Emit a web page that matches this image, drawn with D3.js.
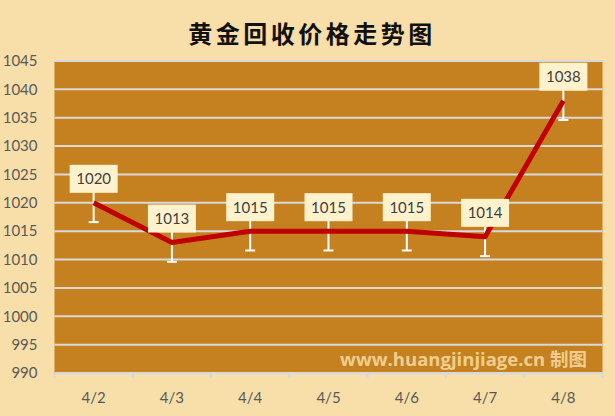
<!DOCTYPE html>
<html>
<head>
<meta charset="utf-8">
<script src="https://cdn.jsdelivr.net/npm/d3@7"></script>
<style>
body{margin:0;background:#F8DEA8;}
svg{display:block;}
</style>
</head>
<body>
<div id="chart"></div>
<script>
var dates = ['4/2','4/3','4/4','4/5','4/6','4/7','4/8'];
var prices = [1020,1013,1015,1015,1015,1014,1038];
var errorAmount = 3.4;
var yTicks = [990,995,1000,1005,1010,1015,1020,1025,1030,1035,1040,1045];

var W = 615, H = 416;
var plotLeft = 54.5, plotRight = 602.5, plotTop = 61, plotBottom = 373;

var svg = d3.select('#chart').append('svg').attr('width', W).attr('height', H);
svg.append('rect').attr('width', W).attr('height', H).attr('fill', '#F8DEA8');

var x = d3.scaleBand().domain(dates).range([plotLeft, plotRight]).padding(0);
var y = d3.scaleLinear().domain([990,1045]).range([plotBottom, plotTop]);
function cx(d){ return x(d) + x.bandwidth()/2; }

svg.append('text').attr('x', 312).attr('y', 43).attr('text-anchor', 'middle')
    .attr('font-family', '"Noto Sans CJK SC"').attr('font-weight', 'bold')
    .attr('font-size', 24).attr('letter-spacing', 3.5).attr('fill', '#111')
    .text('黄金回收价格走势图');

svg.append('rect').attr('x', plotLeft).attr('y', plotTop).attr('width', plotRight-plotLeft).attr('height', plotBottom-plotTop).attr('fill', '#C5811F');

svg.append('g').selectAll('line').data(yTicks).enter().append('line')
    .attr('x1', plotLeft).attr('x2', plotRight)
    .attr('y1', function(d){ return y(d); }).attr('y2', function(d){ return y(d); })
    .attr('stroke', '#D9D9D9').attr('stroke-width', 2);

var yAxis = svg.append('g').attr('transform', 'translate(' + plotLeft + ',0)')
    .call(d3.axisLeft(y).tickValues(yTicks).tickFormat(d3.format('d')).tickSize(0).tickPadding(17));
yAxis.select('.domain').remove();
yAxis.selectAll('text').attr('font-family', 'Lato').attr('font-size', 15).attr('fill', '#595959');

var xAxis = svg.append('g').attr('transform', 'translate(0,' + plotBottom + ')')
    .call(d3.axisBottom(x).tickSize(0).tickPadding(19));
xAxis.select('.domain').attr('stroke', '#D9D9D9').attr('stroke-width', 2);
xAxis.selectAll('text').attr('font-family', 'Lato').attr('font-size', 15).attr('fill', '#595959');

var bounds = dates.map(function(d){ return x(d); }).concat([plotRight]);
svg.append('g').selectAll('line').data(bounds).enter().append('line')
    .attr('x1', function(d){ return d; }).attr('x2', function(d){ return d; })
    .attr('y1', plotBottom).attr('y2', plotBottom + 5)
    .attr('stroke', '#D9D9D9').attr('stroke-width', 2);

svg.append('text').attr('x', 587).attr('y', 366).attr('text-anchor', 'end')
    .attr('font-family', '"Open Sans", "Noto Sans CJK SC"').attr('font-weight', 'bold')
    .attr('font-size', 18.5).attr('fill', '#FBE3B0').attr('fill-opacity', 0.8)
    .text('www.huangjinjiage.cn 制图');

var err = svg.append('g');
prices.forEach(function(p, i){
    var xx = cx(dates[i]);
    err.append('line').attr('x1', xx).attr('x2', xx)
        .attr('y1', y(p + errorAmount)).attr('y2', y(p - errorAmount))
        .attr('stroke', '#fff').attr('stroke-width', 2);
    err.append('line').attr('x1', xx - 5).attr('x2', xx + 5)
        .attr('y1', y(p - errorAmount)).attr('y2', y(p - errorAmount))
        .attr('stroke', '#fff').attr('stroke-width', 2);
});

var line = d3.line().x(function(d, i){ return cx(dates[i]); }).y(function(d){ return y(d); });
svg.append('path').datum(prices).attr('d', line).attr('fill', 'none')
    .attr('stroke', '#C00000').attr('stroke-width', 5).attr('stroke-linejoin', 'round');

var labels = svg.append('g').selectAll('g').data(prices).enter().append('g')
    .attr('transform', function(d, i){ return 'translate(' + cx(dates[i]) + ',' + (y(d) - 24) + ')'; });
labels.append('rect').attr('x', -24).attr('y', -14).attr('width', 48).attr('height', 28)
    .attr('fill', '#FFF2CC');
labels.append('text').attr('text-anchor', 'middle').attr('dy', '0.36em')
    .attr('font-family', 'Lato').attr('font-size', 15).attr('fill', '#404040')
    .text(function(d){ return d; });
</script>
</body>
</html>
